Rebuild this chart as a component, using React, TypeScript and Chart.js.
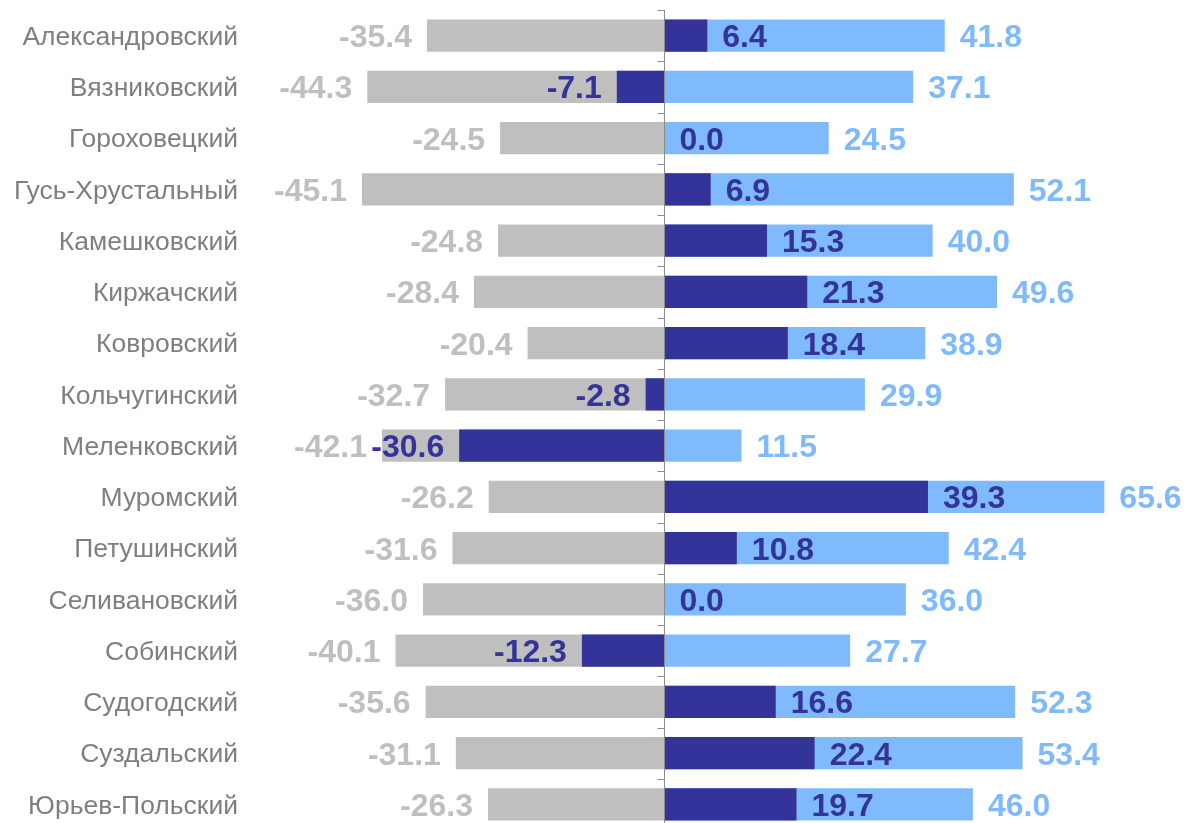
import React, { useEffect, useRef } from "react";
import { Chart, registerables } from "chart.js";

Chart.register(...registerables);

const categories = [
  "Александровский",
  "Вязниковский",
  "Гороховецкий",
  "Гусь-Хрустальный",
  "Камешковский",
  "Киржачский",
  "Ковровский",
  "Кольчугинский",
  "Меленковский",
  "Муромский",
  "Петушинский",
  "Селивановский",
  "Собинский",
  "Судогодский",
  "Суздальский",
  "Юрьев-Польский",
];

const negativeValues = [
  -35.4, -44.3, -24.5, -45.1, -24.8, -28.4, -20.4, -32.7, -42.1, -26.2, -31.6,
  -36.0, -40.1, -35.6, -31.1, -26.3,
];

const positiveValues = [
  41.8, 37.1, 24.5, 52.1, 40.0, 49.6, 38.9, 29.9, 11.5, 65.6, 42.4, 36.0, 27.7,
  52.3, 53.4, 46.0,
];

const netValues = [
  6.4, -7.1, 0.0, 6.9, 15.3, 21.3, 18.4, -2.8, -30.6, 39.3, 10.8, 0.0, -12.3,
  16.6, 22.4, 19.7,
];

const GRAY = "#BFBFBF";
const LIGHT = "#7FBAFC";
const DARK = "#333399";
const FONT = "'Liberation Sans', Arial, sans-serif";
const LABEL_SIZE = 32;

const axisPlugin = {
  id: "zeroAxis",
  afterDatasetsDraw(chart: any) {
    const { ctx, chartArea, scales } = chart;
    const x = Math.round(scales.x.getPixelForValue(0)) + 0.5;
    const n = categories.length;
    const step = (chartArea.bottom - chartArea.top) / n;
    ctx.save();
    ctx.strokeStyle = "#8C8C8C";
    ctx.lineWidth = 1;
    ctx.beginPath();
    ctx.moveTo(x, chartArea.top);
    ctx.lineTo(x, chartArea.bottom);
    for (let i = 0; i <= n; i++) {
      const y = Math.round(chartArea.top + i * step) + 0.5;
      ctx.moveTo(x - 7, y);
      ctx.lineTo(x, y);
    }
    ctx.stroke();
    ctx.restore();
  },
};

const labelPlugin = {
  id: "barLabels",
  afterDatasetsDraw(chart: any) {
    const { ctx } = chart;
    const gap = 15;
    ctx.save();
    ctx.font = `bold ${LABEL_SIZE}px ${FONT}`;
    ctx.textBaseline = "alphabetic";
    const dy = LABEL_SIZE * 0.358;
    const indices = chart.data.datasets.map((_: any, i: number) => i).reverse();
    for (const di of indices) {
      const ds = chart.data.datasets[di];
      const meta = chart.getDatasetMeta(di);
      meta.data.forEach((bar: any, i: number) => {
        const v = ds.data[i] as number;
        const text = v.toFixed(1);
        ctx.fillStyle = ds.labelColor;
        if (v < 0) {
          ctx.textAlign = "right";
          ctx.fillText(text, bar.x - gap, bar.y + dy);
        } else {
          ctx.textAlign = "left";
          ctx.fillText(text, bar.x + gap, bar.y + dy);
        }
      });
    }
    ctx.restore();
  },
};

export default function App() {
  const canvasRef = useRef<HTMLCanvasElement | null>(null);

  useEffect(() => {
    if (!canvasRef.current) return;
    Chart.defaults.font.family = FONT;
    const chart = new Chart(canvasRef.current, {
      type: "bar",
      data: {
        labels: categories,
        datasets: [
          {
            label: "net",
            data: netValues,
            backgroundColor: DARK,
            labelColor: DARK,
            order: 0,
          } as any,
          {
            label: "positive",
            data: positiveValues,
            backgroundColor: LIGHT,
            labelColor: LIGHT,
            order: 1,
          } as any,
          {
            label: "negative",
            data: negativeValues,
            backgroundColor: GRAY,
            labelColor: GRAY,
            order: 2,
          } as any,
        ],
      },
      options: {
        indexAxis: "y",
        animation: false,
        responsive: true,
        maintainAspectRatio: false,
        datasets: {
          bar: {
            grouped: false,
            barPercentage: 0.625,
            categoryPercentage: 1,
            borderWidth: 0,
          },
        },
        layout: {
          padding: { top: 10, bottom: 10, left: 0, right: 20.6 },
        },
        plugins: {
          legend: { display: false },
          tooltip: { enabled: false },
        },
        scales: {
          x: {
            display: false,
            min: -60,
            max: 75,
          },
          y: {
            grid: { display: false, drawTicks: false },
            border: { display: false },
            ticks: {
              autoSkip: false,
              padding: 24,
              labelOffset: 2,
              color: "#7F7F7F",
              font: { size: 26.5, family: FONT },
            },
            afterFit: (scale: any) => {
              scale.width = 262;
              scale.paddingTop = 0;
              scale.paddingBottom = 0;
            },
          },
        },
      },
      plugins: [axisPlugin, labelPlugin],
    });
    return () => chart.destroy();
  }, []);

  return (
    <div
      style={{
        position: "fixed",
        left: 0,
        top: 0,
        width: "1188px",
        height: "840px",
        background: "#ffffff",
      }}
    >
      <canvas ref={canvasRef} />
    </div>
  );
}
